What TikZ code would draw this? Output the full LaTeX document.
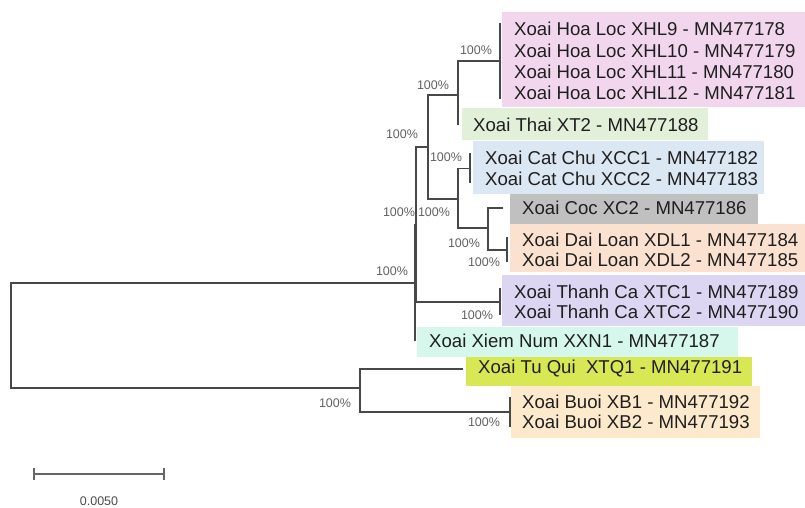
\documentclass[tikz,border=0pt]{standalone}
\usepackage{fontspec}
\setmainfont{Liberation Sans}
\usepackage{tikz}
\usetikzlibrary{arrows.meta,calc}

\definecolor{treeline}{RGB}{72,72,72}
\definecolor{cXHL}{RGB}{242,214,238}
\definecolor{cXT}{RGB}{226,239,217}
\definecolor{cXCC}{RGB}{220,231,244}
\definecolor{cXC}{RGB}{192,192,192}
\definecolor{cXDL}{RGB}{251,226,208}
\definecolor{cXTC}{RGB}{221,214,243}
\definecolor{cXXN}{RGB}{214,248,236}
\definecolor{cXTQ}{RGB}{216,232,84}
\definecolor{cXB}{RGB}{253,233,204}

\begin{document}
\begin{tikzpicture}[x=1pt,y=-1pt,
  branch/.style={draw=treeline,line width=1.3pt},
  leaf/.style={anchor=west,inner sep=0pt,text=black!88,font=\fontsize{18.6}{22}\selectfont},
  boot/.style={inner sep=0pt,text=black!62,font=\fontsize{12.5}{14}\selectfont}]
  \useasboundingbox (0,0) rectangle (805,508);

  % coloured groups
  \fill[cXHL] (502,12) rectangle (805,107);
  \fill[cXT]  (462,108) rectangle (708,140);
  \fill[cXCC] (473,141) rectangle (764,194);
  \fill[cXC]  (510,194) rectangle (758,224);
  \fill[cXDL] (510,224) rectangle (805,272);
  \fill[cXTC] (502,275) rectangle (805,326);
  \fill[cXXN] (417,327) rectangle (738,357);
  \fill[cXTQ] (466,357) rectangle (752,386);
  \fill[cXB]  (511,386) rectangle (760,438);

  % leaves
  \node[leaf] (xhl9)  at (514,29)  {Xoai Hoa Loc XHL9 - MN477178};
  \node[leaf] (xhl10) at (514,51)  {Xoai Hoa Loc XHL10 - MN477179};
  \node[leaf] (xhl11) at (514,72)  {Xoai Hoa Loc XHL11 - MN477180};
  \node[leaf] (xhl12) at (514,93)  {Xoai Hoa Loc XHL12 - MN477181};
  \node[leaf] (xt2)   at (473,125) {Xoai Thai XT2 - MN477188};
  \node[leaf] (xcc1)  at (485,158) {Xoai Cat Chu XCC1 - MN477182};
  \node[leaf] (xcc2)  at (485,179) {Xoai Cat Chu XCC2 - MN477183};
  \node[leaf] (xc2)   at (522,208) {Xoai Coc XC2 - MN477186};
  \node[leaf] (xdl1)  at (522,240) {Xoai Dai Loan XDL1 - MN477184};
  \node[leaf] (xdl2)  at (522,260) {Xoai Dai Loan XDL2 - MN477185};
  \node[leaf] (xtc1)  at (514,292) {Xoai Thanh Ca XTC1 - MN477189};
  \node[leaf] (xtc2)  at (514,312) {Xoai Thanh Ca XTC2 - MN477190};
  \node[leaf] (xxn1)  at (429,341) {Xoai Xiem Num XXN1 - MN477187};
  \node[leaf] (xtq1)  at (478,369) {Xoai Tu Qui\ \ XTQ1 - MN477191};
  \node[leaf] (xb1)   at (522,402) {Xoai Buoi XB1 - MN477192};
  \node[leaf] (xb2)   at (522,422) {Xoai Buoi XB2 - MN477193};

  % inner nodes and branch tips
  \coordinate (root) at (11,335.5);
  \coordinate (nR1)  at (415,283);
  \coordinate (nA1)  at (416,225);
  \coordinate (nB)   at (428,147);
  \coordinate (nC)   at (458,95);
  \coordinate (nXHL) at (500,61);
  \coordinate (tXT)  at (458,125);
  \coordinate (nD)   at (458,199);
  \coordinate (nXCC) at (470,168.5);
  \coordinate (nE)   at (488,228);
  \coordinate (tXC)  at (503,208);
  \coordinate (nXDL) at (507,250);
  \coordinate (nXTC) at (500,302);
  \coordinate (tXXN) at (415,341);
  \coordinate (nL)   at (360,388);
  \coordinate (tXTQ) at (463,369);
  \coordinate (nXB)  at (510,412);

  \draw[branch] (root) |- (nR1);
  \draw[branch] (root) |- (nL);
  \draw[branch] (nR1) |- (nA1);
  \draw[branch] (nR1) |- (tXXN);
  \draw[branch] (nA1) |- (nB);
  \draw[branch] (nA1) |- (nXTC);
  \draw[branch] (nB) |- (nC);
  \draw[branch] (nB) |- (nD);
  \draw[branch] (nC) |- (nXHL);
  \draw[branch] (nC) |- (tXT);
  \draw[branch] (nD) |- (nXCC);
  \draw[branch] (nD) |- (nE);
  \draw[branch] (nE) |- (tXC);
  \draw[branch] (nE) |- (nXDL);
  \draw[branch] (nL) |- (tXTQ);
  \draw[branch] (nL) |- (nXB);

  % zero-length clades
  \draw[branch] ($(nXHL |- xhl9.west)+(0,-6)$) -- ($(nXHL |- xhl12.west)+(0,6)$);
  \draw[branch] ($(nXCC |- xcc1.west)+(0,-5)$) -- ($(nXCC |- xcc2.west)+(0,4)$);
  \draw[branch] ($(nXDL |- xdl1.west)+(0,-3)$) -- ($(nXDL |- xdl2.west)+(0,2)$);
  \draw[branch] ($(nXTC |- xtc1.west)+(0,-4)$) -- ($(nXTC |- xtc2.west)+(0,3)$);
  \draw[branch] ($(nXB |- xb1.west)+(0,-5)$) -- ($(nXB |- xb2.west)+(0,5)$);

  % bootstrap values
  \node[boot] (bXHL) at (476,50)  {100\%};
  \node[boot] (bC)   at (433,85)  {100\%};
  \node[boot] (bB)   at (402,134) {100\%};
  \node[boot] (bXCC) at (446,157) {100\%};
  \node[boot] (bA1)  at (399,212) {100\%};
  \node[boot] (bD)   at (434,212) {100\%};
  \node[boot] (bE)   at (464,243) {100\%};
  \node[boot] (bXDL) at (484,262) {100\%};
  \node[boot] (bR1)  at (392,271) {100\%};
  \node[boot] (bXTC) at (477,315) {100\%};
  \node[boot] (bL)   at (335,403) {100\%};
  \node[boot] (bXB)  at (484,422) {100\%};

  % scale bar
  \coordinate (sb1) at (33,474);
  \coordinate (sb2) at (165,474);
  \draw[draw=black!60,line width=1.8pt,{Bar[width=12pt]}-{Bar[width=12pt]}] (sb1) -- (sb2);
  \node[boot,text=black!70] (sbl) at (99,501) {0.0050};
\end{tikzpicture}
\end{document}
